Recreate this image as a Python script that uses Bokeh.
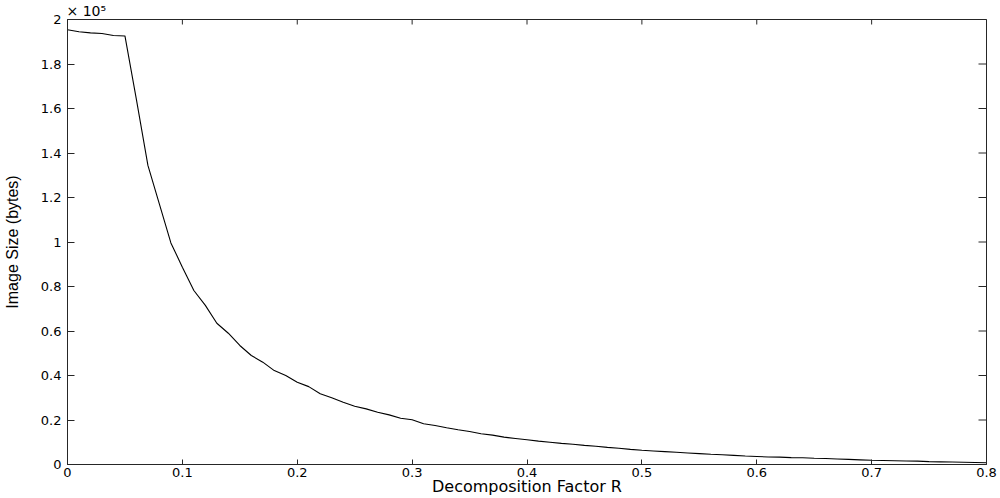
import math
from bokeh.plotting import figure
from bokeh.models import LinearAxis, FixedTicker, CustomJSTickFormatter, Range1d
from bokeh.embed import file_html
from bokeh.resources import INLINE

# ---- data (image size in units of 1e5 bytes) ----
R = [0.00, 0.01, 0.02, 0.03, 0.04, 0.05, 0.06, 0.07, 0.08, 0.09,
     0.10, 0.11, 0.12, 0.13, 0.14, 0.15, 0.16, 0.17, 0.18, 0.19,
     0.20, 0.21, 0.22, 0.23, 0.24, 0.25, 0.26, 0.27, 0.28, 0.29,
     0.30, 0.31, 0.32, 0.33, 0.34, 0.35, 0.36, 0.37, 0.38, 0.39,
     0.40, 0.41, 0.42, 0.43, 0.44, 0.45, 0.46, 0.47, 0.48, 0.49,
     0.50, 0.51, 0.52, 0.53, 0.54, 0.55, 0.56, 0.57, 0.58, 0.59,
     0.60, 0.61, 0.62, 0.63, 0.64, 0.65, 0.66, 0.67, 0.68, 0.69,
     0.70, 0.71, 0.72, 0.73, 0.74, 0.75, 0.76, 0.77, 0.78, 0.79,
     0.80]
image_size_1e5 = [1.954, 1.945, 1.940, 1.937, 1.928, 1.926, 1.640, 1.344, 1.170, 0.996,
                  0.887, 0.782, 0.715, 0.635, 0.590, 0.535, 0.490, 0.460, 0.422, 0.400,
                  0.370, 0.350, 0.318, 0.300, 0.280, 0.262, 0.250, 0.235, 0.223, 0.208,
                  0.201, 0.183, 0.175, 0.165, 0.156, 0.148, 0.138, 0.132, 0.123, 0.117,
                  0.111, 0.105, 0.100, 0.095, 0.091, 0.086, 0.082, 0.077, 0.073, 0.068,
                  0.064, 0.061, 0.058, 0.055, 0.052, 0.049, 0.046, 0.044, 0.041, 0.038,
                  0.036, 0.034, 0.033, 0.031, 0.030, 0.028, 0.027, 0.025, 0.023, 0.021,
                  0.019, 0.018, 0.017, 0.016, 0.015, 0.013, 0.012, 0.011, 0.010, 0.009,
                  0.008]

x_ticks = [0.0, 0.1, 0.2, 0.3, 0.4, 0.5, 0.6, 0.7, 0.8]
y_ticks = [0.0, 0.2, 0.4, 0.6, 0.8, 1.0, 1.2, 1.4, 1.6, 1.8, 2.0]
x_label = "Decomposition Factor R"
y_label = "Image Size (bytes)"
scale_label = "\u00d7 10\u2075"

AXIS_COLOR = "#262626"
TICK_FONT = "DejaVu Sans"
X_MIN, X_MAX = 0.0, 0.8
Y_MIN, Y_MAX = 0.0, 2.0

p = figure(width=1000, height=498, output_backend="svg", toolbar_location=None,
           x_range=Range1d(X_MIN, X_MAX), y_range=Range1d(Y_MIN, Y_MAX),
           min_border_left=64, min_border_right=14, min_border_top=19,
           min_border_bottom=34, x_axis_location=None, y_axis_location=None)
p.grid.visible = False
p.outline_line_color = AXIS_COLOR
p.outline_line_width = 1
p.background_fill_color = "white"
p.border_fill_color = "white"

# scale factor written above the top-left corner, like MATLAB
p.title.text = scale_label
p.title.align = "left"
p.title.text_font = TICK_FONT
p.title.text_font_size = "14px"
p.title.text_font_style = "normal"
p.title.text_color = "black"
p.title.standoff = 1
p.title.offset = -1

p.line(R, image_size_1e5, line_color="black", line_width=1.1)

fmt = CustomJSTickFormatter(code="return tick.toFixed(1).replace(/\\.0$/, '');")


def style_axis(ax, tick_len, standoff):
    ax.axis_line_color = AXIS_COLOR
    ax.axis_line_width = 1
    ax.major_tick_line_color = AXIS_COLOR
    ax.major_tick_in = tick_len
    ax.major_tick_out = 0
    ax.minor_tick_in = 0
    ax.minor_tick_out = 0
    ax.minor_tick_line_color = None
    ax.major_label_text_font = TICK_FONT
    ax.major_label_text_font_size = "13px"
    ax.major_label_text_color = "black"
    ax.major_label_standoff = standoff


xb = LinearAxis(ticker=FixedTicker(ticks=x_ticks), formatter=fmt, axis_label=x_label)
style_axis(xb, 5, 3)
xb.axis_label_text_font = "DejaVu Sans"
xb.axis_label_text_font_size = "16px"
xb.axis_label_text_font_style = "normal"
xb.axis_label_text_color = "black"
xb.axis_label_standoff = -3

yl = LinearAxis(ticker=FixedTicker(ticks=y_ticks), formatter=fmt, axis_label=y_label)
style_axis(yl, 7, 6)
yl.axis_label_text_font = "Liberation Sans"
yl.axis_label_text_font_size = "16px"
yl.axis_label_text_font_style = "normal"
yl.axis_label_text_color = "black"
yl.axis_label_standoff = 17

p.add_layout(xb, "below")
p.add_layout(yl, "left")

# inward ticks on the top and right edges (half of each dash is clipped by the frame)
p.scatter(x=x_ticks, y=[Y_MAX] * len(x_ticks), marker="dash", angle=math.pi / 2,
          size=10, line_color=AXIS_COLOR, line_width=1)
p.scatter(x=[X_MAX] * len(y_ticks), y=y_ticks, marker="dash",
          size=16, line_color=AXIS_COLOR, line_width=1)

open("out.html", "w").write(file_html(p, INLINE))
